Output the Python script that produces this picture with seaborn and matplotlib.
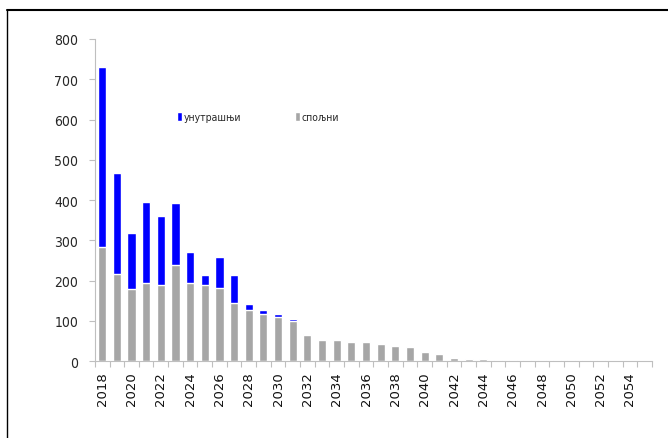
import numpy as np
import pandas as pd
import matplotlib
matplotlib.use("Agg")
import matplotlib.pyplot as plt
import seaborn as sns
from matplotlib.patches import Patch
from matplotlib.lines import Line2D

# години и износи (спољни / унутрашњи)
years = list(range(2018, 2056))
external = [283, 216, 179, 193, 188, 240, 193, 188, 181, 145, 128, 118, 109, 99,
            64, 53, 52, 48, 48, 43, 38, 36, 24, 19, 8, 5, 6, 3, 3, 3, 3, 3, 3,
            3, 3, 0, 0, 0]
internal = [448, 250, 140, 202, 172, 153, 79, 26, 78, 68, 15, 10, 9, 5,
            3, 0, 0, 0, 0, 0, 0, 0, 0, 0, 0, 0, 0, 0, 0, 0, 0, 0, 0,
            0, 0, 0, 0, 0]
label_int = "унутрашњи"
label_ext = "спољни"

df = pd.DataFrame({"year": [str(y) for y in years],
                   "external": external, "internal": internal})
df["total"] = df["external"] + df["internal"]

sns.set_style("white")
narrow = ["DejaVu Sans"]

fig = plt.figure(figsize=(6.68, 4.39), dpi=100)
ax = fig.add_axes([0.142, 0.175, 0.834, 0.734])

sns.barplot(data=df, x="year", y="total", color="#0000FF", saturation=1,
            width=0.55, ax=ax)
sns.barplot(data=df, x="year", y="external", color="#A6A6A6", saturation=1,
            width=0.55, ax=ax)

ax.set_xlim(-0.5, len(years) - 0.5)
ax.set_ylim(0, 800)
ax.set_yticks(np.arange(0, 801, 100))
ax.set_yticklabels([str(v) for v in range(0, 801, 100)], family=narrow,
                   fontstretch="condensed", fontsize=10)
ax.set_xticks(range(0, len(years), 2))
ax.set_xticklabels([str(y) for y in years[::2]], rotation=90, fontsize=9.5,
                   color="#111111")
ax.set_xticks(np.arange(-0.5, len(years), 1), minor=True)
ax.tick_params(axis="x", which="major", length=0, pad=7)
ax.tick_params(axis="x", which="minor", length=4, color="#BFBFBF", width=0.8,
               direction="out", bottom=True)
ax.tick_params(axis="y", length=4, color="#BFBFBF", width=0.8, direction="out",
               left=True, pad=8)
ax.set_xlabel("")
ax.set_ylabel("")
for s in ["top", "right"]:
    ax.spines[s].set_visible(False)
for s in ["left", "bottom"]:
    ax.spines[s].set_color("#BFBFBF")
    ax.spines[s].set_linewidth(0.8)

handles = [Patch(facecolor="#0000FF", label=label_int),
           Patch(facecolor="#A6A6A6", label=label_ext)]
ax.legend(handles=handles, ncol=2, frameon=False, loc="center left",
          bbox_to_anchor=(0.13, 0.758), handlelength=0.5, handleheight=0.9,
          handletextpad=0.2, columnspacing=5.1,
          prop={"family": narrow, "stretch": "condensed", "size": 7.5})

# рамка слике (горе и лево)
fig.add_artist(Line2D([0.011, 1.0], [0.976, 0.976], transform=fig.transFigure,
                      color="black", linewidth=1.5))
fig.add_artist(Line2D([0.011, 0.011], [0.0, 0.976], transform=fig.transFigure,
                      color="black", linewidth=1.0))

fig.savefig("out.png", dpi=100)
